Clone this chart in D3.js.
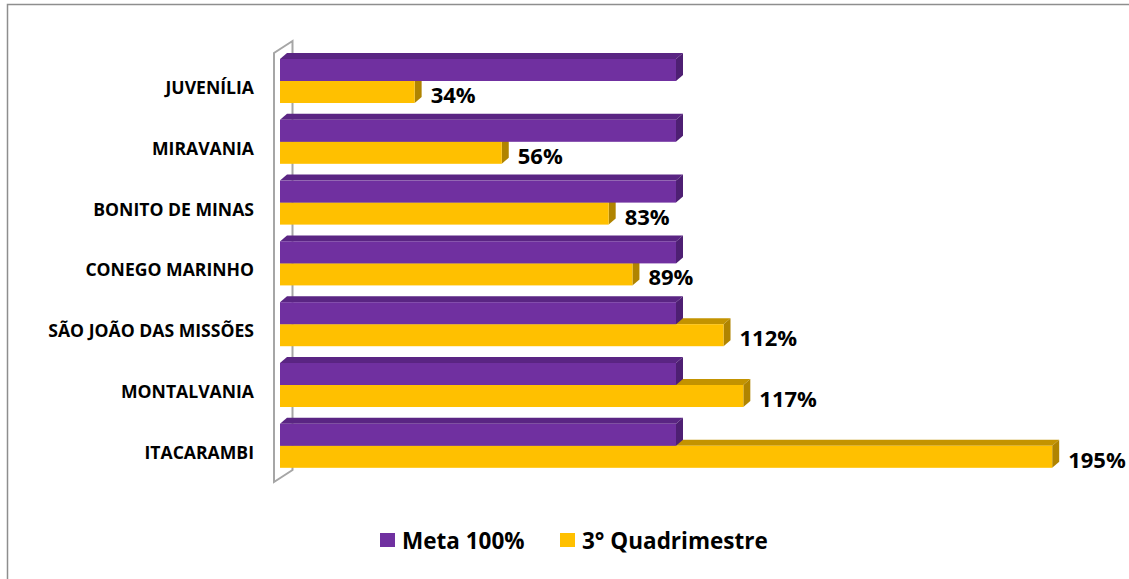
<!DOCTYPE html>
<html>
<head>
<meta charset="utf-8">
<script src="https://cdn.jsdelivr.net/npm/d3@7"></script>
<style>
  html, body { margin: 0; padding: 0; background: #fff; }
  svg { display: block; }
  text { font-family: "Open Sans", Lato, sans-serif; font-weight: bold; fill: #000; }
</style>
</head>
<body>
<div id="chart"></div>
<script>
// chart data
const categories = ["JUVENÍLIA", "MIRAVANIA", "BONITO DE MINAS", "CONEGO MARINHO",
                    "SÃO JOÃO DAS MISSÕES", "MONTALVANIA", "ITACARAMBI"];
const meta = [100, 100, 100, 100, 100, 100, 100];
const quadrimestre = [34, 56, 83, 89, 112, 117, 195];
const seriesNames = ["Meta 100%", "3° Quadrimestre"];

const W = 1129, H = 579;
// 3d depth of the bars
const dx = 7, dy = 6;

const colors = {
  meta: {front: "#7030a0", top: "#5a2583", side: "#4e1f73"},
  q3:   {front: "#ffc000", top: "#c39300", side: "#b08400"}
};

const svg = d3.select("#chart").append("svg")
    .attr("width", W)
    .attr("height", H);

// outer frame of the chart area (runs off the page right / bottom)
svg.append("path")
    .attr("d", `M7.5,${H + 2} L7.5,4.5 L${W + 2},4.5`)
    .attr("fill", "none")
    .attr("stroke", "#8e8e8e")
    .attr("stroke-width", 1.5);

const x = d3.scaleLinear()
    .domain([0, 200])
    .range([280, 1072]);

const y = d3.scaleBand()
    .domain(categories)
    .range([50.6, 476.2])
    .paddingInner(0.276)
    .paddingOuter(0.138);

const ySub = d3.scaleBand()
    .domain(["meta", "q3"])
    .range([0, y.bandwidth()]);

// the back wall of the 3d plot
svg.append("path")
    .attr("d", "M274,482 L274,53 L292.5,41 L292.5,470 Z")
    .attr("fill", "none")
    .attr("stroke", "#a6a6a6")
    .attr("stroke-width", 2)
    .attr("stroke-linejoin", "miter");

// draw one 3d bar: front, top and side faces
function bar3d(g, x0, x1, y0, h, c) {
  g.append("path")
      .attr("d", `M${x0},${y0} L${x0 + dx},${y0 - dy} L${x1 + dx},${y0 - dy} L${x1},${y0} Z`)
      .attr("fill", c.top);
  g.append("path")
      .attr("d", `M${x1},${y0} L${x1 + dx},${y0 - dy} L${x1 + dx},${y0 + h - dy} L${x1},${y0 + h} Z`)
      .attr("fill", c.side);
  g.append("rect")
      .attr("x", x0)
      .attr("y", y0)
      .attr("width", x1 - x0)
      .attr("height", h)
      .attr("fill", c.front);
}

const bars = svg.append("g");
categories.forEach((cat, i) => {
  const g = bars.append("g");
  // yellow first so the purple front hides its top face
  bar3d(g, x(0), x(quadrimestre[i]), y(cat) + ySub("q3"), ySub.bandwidth(), colors.q3);
  bar3d(g, x(0), x(meta[i]), y(cat) + ySub("meta"), ySub.bandwidth(), colors.meta);
});

// value labels for the 3° Quadrimestre series
svg.append("g")
    .selectAll("text")
    .data(quadrimestre)
    .join("text")
    .attr("x", d => x(d) + 16)
    .attr("y", (d, i) => y(categories[i]) + ySub("q3") + ySub.bandwidth() / 2 + 2)
    .attr("dominant-baseline", "central")
    .style("font-size", "22px")
    .text(d => d + "%");

// category labels
svg.append("g")
    .selectAll("text")
    .data(categories)
    .join("text")
    .attr("x", 254)
    .attr("y", d => y(d) + y.bandwidth() / 2 + 6)
    .attr("text-anchor", "end")
    .attr("dominant-baseline", "central")
    .style("font-size", "17.6px")
    .text(d => d);

// legend
const legend = svg.append("g");
const legendX = [380, 560];
const legendColors = [colors.meta.front, colors.q3.front];
seriesNames.forEach((name, i) => {
  legend.append("rect")
      .attr("x", legendX[i])
      .attr("y", 533)
      .attr("width", 15)
      .attr("height", 14)
      .attr("fill", legendColors[i]);
  legend.append("text")
      .attr("x", legendX[i] + 22)
      .attr("y", 540)
      .attr("dominant-baseline", "central")
      .style("font-size", "22.5px")
      .text(name);
});
</script>
</body>
</html>
